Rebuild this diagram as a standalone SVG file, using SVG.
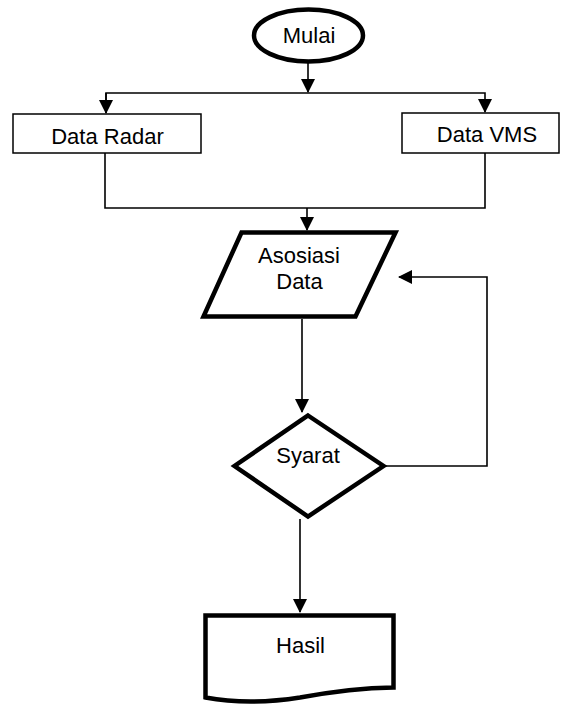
<svg xmlns="http://www.w3.org/2000/svg" width="561" height="704" viewBox="0 0 561 704">
<style>
text{font-family:"Liberation Sans",Arial,sans-serif;font-size:22px;fill:#000;text-anchor:middle}
.thick{fill:#fff;stroke:#000;stroke-width:4.5}
.box{fill:#fff;stroke:#000;stroke-width:1.5}
.conn{fill:none;stroke:#000;stroke-width:1.6}
</style>
<defs>
<marker id="arr" markerUnits="userSpaceOnUse" markerWidth="14" markerHeight="14" refX="13" refY="7" orient="auto">
<path d="M0,0 L14,7 L0,14 z" fill="#000"/>
</marker>
</defs>
<g id="connectors">
<path class="conn" d="M308,63 V92" marker-end="url(#arr)"/>
<path class="conn" d="M106,113 V93 H485 V112" marker-end="url(#arr)"/>
<path class="conn" d="M106,93 V113" marker-end="url(#arr)"/>
<path class="conn" d="M105,153 V208 H485 V153"/>
<path class="conn" d="M307,208 V230" marker-end="url(#arr)"/>
<path class="conn" d="M302,319 V412" marker-end="url(#arr)"/>
<path class="conn" d="M385,466 H487 V277 H399" marker-end="url(#arr)"/>
<path class="conn" d="M300,519 V612" marker-end="url(#arr)"/>
</g>
<g id="mulai">
<ellipse class="thick" cx="308.5" cy="35.5" rx="54.5" ry="26"/>
<text x="309" y="43">Mulai</text>
</g>
<g id="data-radar">
<rect class="box" x="13" y="114" width="188" height="39"/>
<text x="107.5" y="144">Data Radar</text>
</g>
<g id="data-vms">
<rect class="box" x="402" y="113" width="157" height="40"/>
<text x="487" y="142">Data VMS</text>
</g>
<g id="asosiasi">
<polygon class="thick" points="241.5,232.5 395.5,232.5 355.5,316.5 203.5,316.5"/>
<text x="299" y="263">Asosiasi</text>
<text x="299.5" y="289">Data</text>
</g>
<g id="syarat">
<polygon class="thick" points="308,415.5 383.5,466 308,516.5 234.5,466"/>
<text x="308" y="463">Syarat</text>
</g>
<g id="hasil">
<path class="thick" stroke-width="5" d="M205.5,697.5 V615.5 H393.5 V687.5 C360,688 330,692 300,697.5 C265,703 235,703 205.5,697.5 Z"/>
<text x="300.5" y="653">Hasil</text>
</g>
</svg>
